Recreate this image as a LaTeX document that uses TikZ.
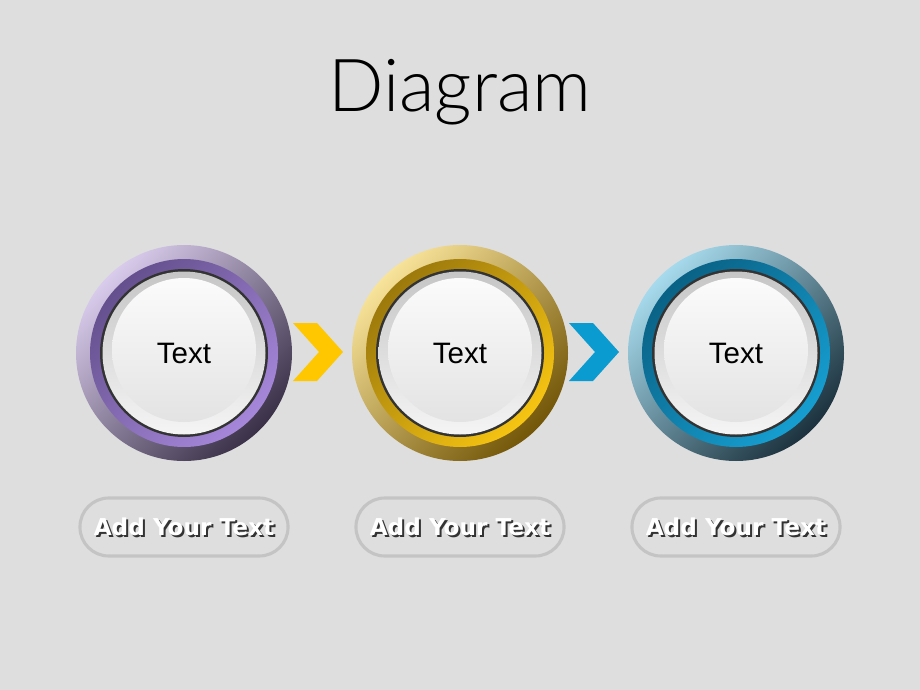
\documentclass[tikz,border=0pt]{standalone}
\usepackage{fontspec}
\setmainfont{Liberation Sans}
\newfontfamily\pillfont{DejaVu Sans}
\newfontfamily\titlefont{Lato Light}
\usepackage{tikz}
\usetikzlibrary{positioning}
\tikzset{every picture/.style={line width=0.75pt}}
\definecolor{bg}{HTML}{DEDEDE}
\definecolor{pillline}{HTML}{C4C4C4}
% ring colours
\definecolor{purpA}{HTML}{D8CBEB}
\definecolor{purpC}{HTML}{7A62A6}
\definecolor{purpD}{HTML}{3A3148}
\definecolor{purpM}{HTML}{65508E}
\definecolor{purpL}{HTML}{A687DA}
\definecolor{goldA}{HTML}{F8E39A}
\definecolor{goldC}{HTML}{C89E1A}
\definecolor{goldD}{HTML}{735608}
\definecolor{goldM}{HTML}{9C790C}
\definecolor{goldL}{HTML}{F6C412}
\definecolor{blueA}{HTML}{A6DAEC}
\definecolor{blueC}{HTML}{1E7EA6}
\definecolor{blueD}{HTML}{1C323E}
\definecolor{blueM}{HTML}{0A6286}
\definecolor{blueL}{HTML}{169ED0}
\definecolor{chevY}{HTML}{FFC700}
\definecolor{chevB}{HTML}{0A9BD0}

\begin{document}
\begin{tikzpicture}[x=0.025cm,y=-0.025cm,
  pill/.style={draw=pillline,line width=2.2pt,minimum width=5.2cm,minimum height=1.45cm,rounded corners=0.72cm},
  addtxt/.style={font=\pillfont\bfseries\fontsize{16.5}{18}\selectfont}]
\fill[bg] (0,0) rectangle (920,690);
\useasboundingbox (0,0) rectangle (920,690);
%
\node (title) at (460,92) {\titlefont\fontsize{52}{58}\selectfont Diagram};
%
\foreach \n/\x/\lite/\cen/\dark/\mid/\midlite in {%
	1/184/purpA/purpC/purpD/purpM/purpL,
	2/460/goldA/goldC/goldD/goldM/goldL,
	3/736/blueA/blueC/blueD/blueM/blueL%
    }
{
\shade[top color=\lite,middle color=\cen,bottom color=\dark,shading angle=45] (\x,353) circle[radius=108];
\shade[top color=\mid,bottom color=\midlite,shading angle=45] (\x,353) circle[radius=94];
\fill[black!80] (\x,353) circle[radius=84];
\shade[top color=gray!45!white,bottom color=gray!8!white] (\x,353) circle[radius=81.5];
\shade[top color=white!97!gray,bottom color=gray!22!white] (\x,350) circle[radius=72];
\node (t\n) at (\x,353) {\fontsize{21}{24}\selectfont Text};
%
\node[pill] (p\n) at (\x,527) {};
\node[addtxt,text=black!80] (s\n) at (\x+2,529) {Add Your Text};
\node[addtxt,text=white] (a\n) at (\x,527) {Add Your Text};
}
%
\foreach \dx/\col in {0/chevY,276/chevB}
\fill[\col,shift={(\dx,0)}] (293,323) -- (317,323) -- (343,352) -- (317,381) -- (293,381) -- (319,352) -- cycle;
\end{tikzpicture}
\end{document}
